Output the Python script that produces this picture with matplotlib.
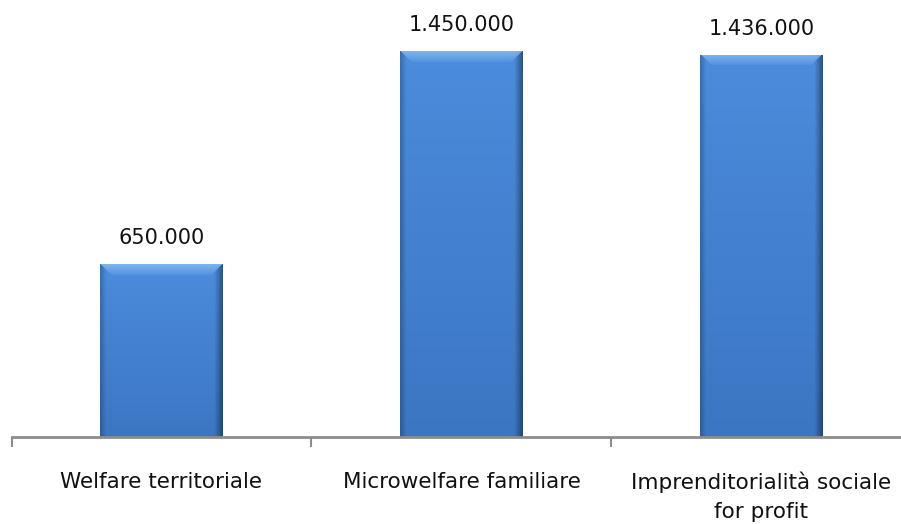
import numpy as np
import matplotlib
matplotlib.use("Agg")
import matplotlib.pyplot as plt
from matplotlib.colors import to_rgb

categories = ["Welfare territoriale", "Microwelfare familiare", "Imprenditorialità sociale\nfor profit"]
values = [650000, 1450000, 1436000]
value_labels = ["650.000", "1.450.000", "1.436.000"]

W, H, DPI = 901, 524, 100
fig = plt.figure(figsize=(W / DPI, H / DPI), dpi=DPI)
ax = fig.add_axes([11.5 / W, (H - 437) / H, 900 / W, 437 / H])
ax.set_xlim(0, len(categories))
ax.set_ylim(0, 1642000)

x = np.arange(len(categories)) + 0.5
bars = ax.bar(x, values, width=0.41, color="#4282D2", zorder=2)


def bar_image(wpx, hpx):
    """Bevelled blue fill for one bar, sized in pixels."""
    wpx, hpx = max(int(wpx), 2), max(int(hpx), 2)
    top = np.array(to_rgb("#4C8CDC"))
    bot = np.array(to_rgb("#3B76C2"))
    t = np.linspace(0, 1, hpx)[:, None, None]
    img = top * (1 - t) + bot * t
    img = np.repeat(img, wpx, axis=1)
    xs = np.arange(wpx)[None, :, None]
    ys = np.arange(hpx)[:, None, None]
    # darker sides
    left = np.clip(xs / 6.0, 0, 1)
    right = np.clip((wpx - 1 - xs) / 8.0, 0, 1)
    shade = (0.78 + 0.22 * left) * (0.6 + 0.4 * right)
    img = img * shade
    # light bevel along the top
    bevel = 11
    inside = (ys < bevel) & (xs > ys) & (xs < wpx - 1 - ys)
    light = np.array(to_rgb("#86BCF2"))
    k = np.clip(1 - ys / bevel, 0, 1) * 0.75 + 0.1
    img = np.where(inside, img * (1 - k) + light * k, img)
    return np.clip(img, 0, 1)


fig.canvas.draw()
for rect in bars:
    x0, y0 = rect.get_x(), rect.get_y()
    x1, y1 = x0 + rect.get_width(), y0 + rect.get_height()
    p0 = ax.transData.transform((x0, y0))
    p1 = ax.transData.transform((x1, y1))
    im = ax.imshow(bar_image(p1[0] - p0[0], p1[1] - p0[1]), extent=(x0, x1, y0, y1),
                   aspect="auto", interpolation="bilinear", zorder=3)
    im.set_clip_path(rect)

for xi, v, lab in zip(x, values, value_labels):
    ax.annotate(lab, (xi, v), xytext=(0, 11.5), textcoords="offset points",
                ha="center", va="bottom", fontsize=15, color="#111111",
                family="DejaVu Sans")

ax.set_xticks(np.arange(len(categories) + 1))
ax.set_xticklabels([])
ax.tick_params(axis="x", length=7, width=1.5, color="#8C8C8C", direction="out")
ax.set_yticks([])
for side in ("top", "right", "left"):
    ax.spines[side].set_visible(False)
ax.spines["bottom"].set_color("#8C8C8C")
ax.spines["bottom"].set_linewidth(2)
ax.spines["bottom"].set_zorder(4)

for xi, cat in zip(x, categories):
    ax.annotate(cat, (xi, 0), xycoords=("data", "axes fraction"), xytext=(0, -25),
                textcoords="offset points", ha="center", va="top",
                fontsize=15.5, color="#111111", linespacing=1.55, family="DejaVu Sans")

ax.set_xlim(0, len(categories))
ax.set_ylim(0, 1642000)
fig.savefig("out.png", dpi=DPI)
